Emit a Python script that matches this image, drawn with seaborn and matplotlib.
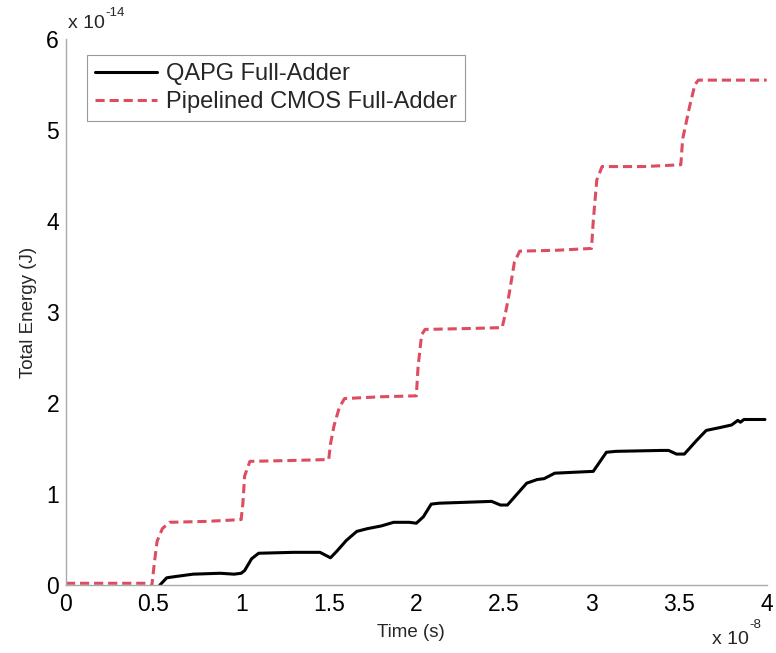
import numpy as np
import pandas as pd
import seaborn as sns
import matplotlib
matplotlib.use("Agg")
import matplotlib.pyplot as plt

# time in units of 1e-8 s, energy in units of 1e-14 J
qapg_t = [0.536, 0.575, 0.61, 0.725, 0.88, 0.96, 1.00, 1.02, 1.06, 1.10, 1.30, 1.45,
          1.51, 1.545, 1.60, 1.66, 1.72, 1.80, 1.87, 1.96, 2.00, 2.04, 2.085, 2.13,
          2.43, 2.48, 2.52, 2.63, 2.69, 2.73, 2.79, 3.01, 3.085, 3.14, 3.40, 3.44,
          3.485, 3.53, 3.60, 3.655, 3.73, 3.80, 3.835, 3.85, 3.87, 3.99]
qapg_e = [0.0, 0.08, 0.09, 0.12, 0.13, 0.12, 0.13, 0.16, 0.29, 0.35, 0.36, 0.36,
          0.30, 0.37, 0.49, 0.59, 0.62, 0.65, 0.69, 0.69, 0.68, 0.75, 0.89, 0.90,
          0.92, 0.88, 0.88, 1.12, 1.16, 1.17, 1.23, 1.25, 1.46, 1.47, 1.48, 1.48,
          1.44, 1.44, 1.59, 1.70, 1.73, 1.76, 1.81, 1.79, 1.82, 1.82]

cmos_t = [0.0, 0.46, 0.49, 0.505, 0.52, 0.55, 0.59, 0.80, 1.00, 1.01, 1.02, 1.05,
          1.30, 1.50, 1.51, 1.53, 1.56, 1.59, 1.80, 2.00, 2.01, 2.03, 2.05, 2.30,
          2.49, 2.51, 2.53, 2.56, 2.59, 2.80, 3.00, 3.01, 3.03, 3.06, 3.30, 3.51,
          3.52, 3.56, 3.59, 3.61, 4.00]
cmos_e = [0.02, 0.02, -0.01, 0.25, 0.48, 0.62, 0.69, 0.70, 0.72, 0.90, 1.20, 1.36,
          1.37, 1.38, 1.55, 1.75, 1.95, 2.05, 2.07, 2.08, 2.40, 2.75, 2.81, 2.82,
          2.83, 3.00, 3.20, 3.55, 3.67, 3.68, 3.70, 4.00, 4.45, 4.60, 4.60, 4.62,
          4.90, 5.26, 5.50, 5.55, 5.55]

labels = ["QAPG Full-Adder", "Pipelined CMOS Full-Adder"]

df = pd.concat([
    pd.DataFrame({"t": qapg_t, "e": qapg_e, "design": labels[0]}),
    pd.DataFrame({"t": cmos_t, "e": cmos_e, "design": labels[1]}),
], ignore_index=True)

sns.set_style("white")
plt.rcParams['font.family'] = ['Liberation Sans', 'DejaVu Sans']

fig = plt.figure(figsize=(7.76, 6.53), dpi=100)
ax = fig.add_axes([0.085, 0.104, 0.903, 0.836])

sns.lineplot(data=df, x="t", y="e", hue="design", style="design",
             palette={labels[0]: "black", labels[1]: "#de4c62"},
             dashes={labels[0]: "", labels[1]: (3, 1.6)},
             estimator=None, sort=False, linewidth=2.2, ax=ax)

ax.set_xlim(0, 4)
ax.set_ylim(0, 6)
ax.set_xticks([0, 0.5, 1, 1.5, 2, 2.5, 3, 3.5, 4])
ax.set_xticklabels(["0", "0.5", "1", "1.5", "2", "2.5", "3", "3.5", "4"])
ax.set_yticks([0, 1, 2, 3, 4, 5, 6])
ax.tick_params(axis="both", direction="in", length=4, width=0.8, colors="#999999",
               labelcolor="black", labelsize=16.5)
ax.tick_params(axis="x", pad=6)
ax.tick_params(axis="y", pad=5)

for s in ["top", "right"]:
    ax.spines[s].set_visible(False)
for s in ["left", "bottom"]:
    ax.spines[s].set_color("#aaaaaa")
    ax.spines[s].set_linewidth(1.0)

ax.set_xlabel("Time (s)", fontsize=13.5)
ax.set_ylabel("Total Energy (J)", fontsize=13.5)
ax.xaxis.set_label_coords(0.492, -0.072)
ax.yaxis.set_label_coords(-0.042, 0.5)

# MATLAB-style exponent labels
fig.text(0.088, 0.957, "x 10", fontsize=14, va="baseline")
fig.text(0.136, 0.975, "-14", fontsize=9.5, va="baseline")
fig.text(0.918, 0.008, "x 10", fontsize=14, va="bottom")
fig.text(0.966, 0.033, "-8", fontsize=9.5, va="bottom")

leg = ax.legend(loc="upper left", bbox_to_anchor=(0.03, 0.971), borderaxespad=0,
                fontsize=17, handlelength=2.6, frameon=True, fancybox=False,
                framealpha=1, edgecolor="#999999", borderpad=0.35,
                labelspacing=0.25, handletextpad=0.4)
leg.get_frame().set_linewidth(0.8)

fig.savefig("out.png", dpi=100)
